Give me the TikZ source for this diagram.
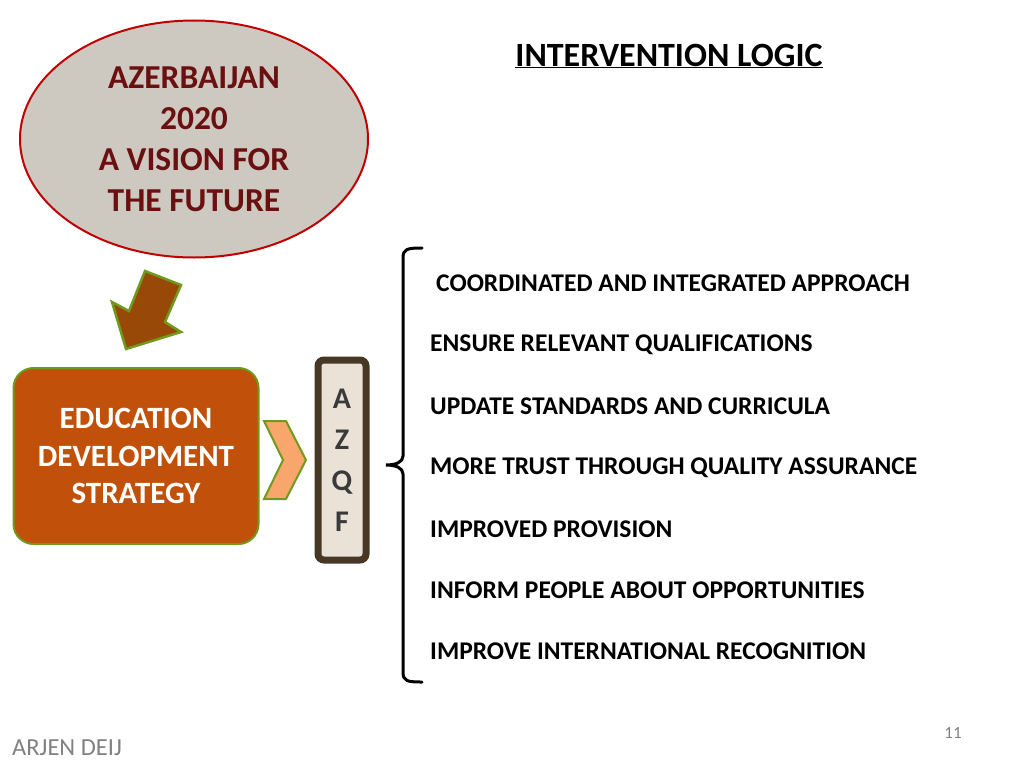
\documentclass[tikz,border=0pt]{standalone}
\usepackage{fontspec}
\setmainfont{Carlito}
\usetikzlibrary{positioning,shapes.geometric}
\definecolor{vgray}{HTML}{CDC8C0}
\definecolor{vred}{HTML}{C00000}
\definecolor{vtext}{HTML}{6B1010}
\definecolor{arrowbrown}{HTML}{984807}
\definecolor{olive}{HTML}{6F9A1E}
\definecolor{edsorange}{HTML}{C0500A}
\definecolor{chevfill}{HTML}{F9A66C}
\definecolor{boxbrown}{HTML}{473826}
\definecolor{boxfill}{HTML}{EAE1D7}
\definecolor{lettergray}{HTML}{3A3A3A}
\tikzset{
  item/.style={anchor=west,font=\fontsize{25.5}{30}\selectfont\bfseries,inner sep=0pt},
}
\begin{document}
\begin{tikzpicture}[x=1pt,y=-1pt]
\useasboundingbox (0,0) rectangle (1024,768);

\node[ellipse,draw=vred,line width=2pt,fill=vgray,minimum width=348pt,minimum height=237pt,
  text=vtext,align=center,font=\fontsize{33.5}{41}\selectfont\bfseries] (vision) at (194,139)
  {AZERBAIJAN\\2020\\A VISION FOR\\THE FUTURE};

\node[font=\fontsize{34}{38}\selectfont\bfseries,inner sep=0pt] (title) at (669,56)
  {\underline{INTERVENTION LOGIC}};

% block arrow
\draw[fill=arrowbrown,draw=olive,line width=2.5pt,line join=miter]
(145,271) -- (181,285) -- (165,322) -- (181,332) -- (126,349) -- (112,302) -- (129,311) -- cycle;

\node[draw=olive,line width=2pt,fill=edsorange,rounded corners=20pt,minimum width=245pt,minimum height=176pt,
  text=white,align=center,font=\fontsize{31}{37.5}\selectfont\bfseries] (eds) at (136,456)
  {EDUCATION\\DEVELOPMENT\\STRATEGY};

% chevron
\draw[fill=chevfill,draw=olive,line width=2pt]
(264,421) -- (286,421) -- (306,460) -- (286,499) -- (264,499) -- (283,460) -- cycle;

\node[draw=boxbrown,line width=7pt,fill=boxfill,rounded corners=6pt,minimum width=48pt,minimum height=200pt,
  text=lettergray,align=center,font=\fontsize{30}{41}\selectfont\bfseries] (azqf) at (342,460)
  {A\\Z\\Q\\F};

% brace
\draw[line width=3pt,line cap=round]
(422,248) .. controls (407,248) and (403,249) .. (403,258) -- (403,456)
 .. controls (403,462) and (396,465) .. (386,465)
 .. controls (396,465) and (403,468) .. (403,474) -- (403,672)
 .. controls (403,681) and (407,682) .. (422,682);

\node[item] (i1) at (436,283) {COORDINATED AND INTEGRATED APPROACH};
\node[item] (i2) at (430,345) {ENSURE RELEVANT QUALIFICATIONS};
\node[item] (i3) [below=61.3pt of i2.west,anchor=west] {UPDATE STANDARDS AND CURRICULA};
\node[item] (i4) [below=61.3pt of i3.west,anchor=west] {MORE TRUST THROUGH QUALITY ASSURANCE};
\node[item] (i5) [below=61.3pt of i4.west,anchor=west] {IMPROVED PROVISION};
\node[item] (i6) [below=61.3pt of i5.west,anchor=west] {INFORM PEOPLE ABOUT OPPORTUNITIES};
\node[item] (i7) [below=61.3pt of i6.west,anchor=west] {IMPROVE INTERNATIONAL RECOGNITION};

\node[anchor=west,text=gray,font=\fontsize{24.5}{28}\selectfont,inner sep=0pt] (author) at (12,748) {ARJEN DEIJ};
\node[text=gray,font=\fontsize{17}{20}\selectfont,inner sep=0pt] (page) at (953,733) {11};
\end{tikzpicture}
\end{document}
